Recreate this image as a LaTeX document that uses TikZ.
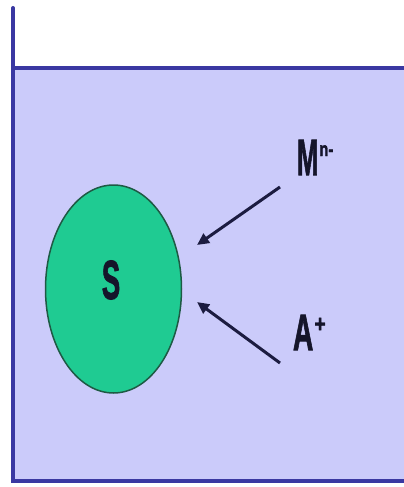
\documentclass[tikz,border=0pt]{standalone}
\usepackage{fontspec}
\usepackage{graphicx}
\setmainfont{Liberation Sans}
\newfontfamily\heavyfont[FakeBold=2]{Liberation Sans Bold}
\usetikzlibrary{arrows.meta,shapes.geometric}
\definecolor{tankfill}{HTML}{CBCBFA}
\definecolor{tankline}{HTML}{3A38A2}
\definecolor{solid}{HTML}{1FCB92}
\definecolor{solidline}{HTML}{1E5A44}
\definecolor{arrowc}{HTML}{1C1C40}
\definecolor{txt}{HTML}{15152A}
\tikzset{
  wall/.style={draw=tankline, line width=4pt, line cap=round},
  ion/.style={draw=arrowc, line width=3pt, -{Triangle[length=12pt,width=11pt]}},
  lbl/.style={inner sep=0pt, outer sep=0pt, text=txt, font=\heavyfont},
}
\begin{document}
\begin{tikzpicture}[x=1pt,y=-1pt]
\useasboundingbox (0,0) rectangle (404,487);
\fill[white] (0,0) rectangle (404,487);
% liquid
\fill[tankfill] (13,68) rectangle (404,480);
\coordinate (lt) at (13,8);
\coordinate (lb) at (13,481);
\coordinate (tl) at (13,68);
\coordinate (tr) at (406,68);
\coordinate (br) at (406,481);
\draw[wall] (lt) -- (lb) -- (br);
\draw[wall, line cap=butt] (tl) -- (tr);
% solid particle
\node[ellipse, draw=solidline, fill=solid, line width=1.5pt,
      minimum width=136pt, minimum height=208pt, inner sep=0pt] (S) at (113.5,289) {};
\node[lbl] (Slbl) at (111,280) {\scalebox{0.5}[1]{\fontsize{55}{55}\selectfont S}};
% ions
\node[lbl, anchor=base west] (M) at (297,175) {\scalebox{0.5}[1]{\fontsize{51}{51}\selectfont M}};
\node[lbl, anchor=base west] (Msup) at ([xshift=1pt,yshift=19pt]M.base east) {\scalebox{0.75}[1]{\fontsize{20}{20}\selectfont n-}};
\node[lbl, anchor=base west] (A) at (293,350) {\scalebox{0.55}[1]{\fontsize{51}{51}\selectfont A}};
\node[lbl] (Asup) at (320,325) {\scalebox{0.8}[1]{\fontsize{24}{24}\selectfont +}};
% arrows
\coordinate (m0) at (280,187);
\coordinate (m1) at (197,245);
\coordinate (a0) at (280,363);
\coordinate (a1) at (197,302);
\draw[ion] (m0) -- (m1);
\draw[ion] (a0) -- (a1);
\end{tikzpicture}
\end{document}
